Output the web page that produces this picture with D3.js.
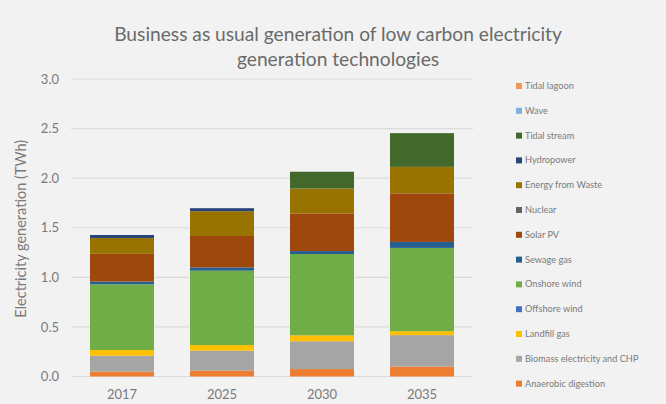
<!DOCTYPE html>
<html>
<head>
<meta charset="utf-8">
<script src="https://cdn.jsdelivr.net/npm/d3@7"></script>
<style>
  html, body { margin: 0; padding: 0; background: #f2f2f2; }
  svg { display: block; }
  text { font-family: "Lato", "Open Sans", sans-serif; }
</style>
</head>
<body>
<svg id="chart" width="666" height="404"></svg>
<script>
// Years on the category axis
const years = ["2017", "2025", "2030", "2035"];

// Technologies, bottom of the stack first
const technologies = [
  "Anaerobic digestion",
  "Biomass electricity and CHP",
  "Landfill gas",
  "Offshore wind",
  "Onshore wind",
  "Sewage gas",
  "Solar PV",
  "Nuclear",
  "Energy from Waste",
  "Hydropower",
  "Tidal stream",
  "Wave",
  "Tidal lagoon"
];

// Generation in TWh per technology, one value per year
const anaerobicDigestion = [0.05, 0.06, 0.075, 0.10];
const biomassChp        = [0.16, 0.20, 0.28, 0.317];
const landfillGas       = [0.057, 0.057, 0.06, 0.04];
const offshoreWind      = [0, 0, 0, 0];
const onshoreWind       = [0.663, 0.75, 0.82, 0.84];
const sewageGas         = [0.027, 0.033, 0.03, 0.06];
const solarPv           = [0.28, 0.317, 0.38, 0.49];
const nuclear           = [0, 0, 0, 0];
const energyFromWaste   = [0.16, 0.25, 0.25, 0.267];
const hydropower        = [0.03, 0.03, 0, 0];
const tidalStream       = [0, 0, 0.17, 0.34];
const wave              = [0, 0, 0, 0];
const tidalLagoon       = [0, 0, 0, 0];

const seriesValues = [
  anaerobicDigestion, biomassChp, landfillGas, offshoreWind, onshoreWind,
  sewageGas, solarPv, nuclear, energyFromWaste, hydropower, tidalStream,
  wave, tidalLagoon
];

const colors = [
  "#ED7D31", "#A5A5A5", "#FFC000", "#4472C4", "#70AD47", "#255E91",
  "#9E480E", "#636363", "#997300", "#264478", "#43682B", "#7CAFDD", "#F1975A"
];

const yTicks = [0, 0.5, 1.0, 1.5, 2.0, 2.5, 3.0];

const titleLines = [
  "Business as usual generation of low carbon electricity",
  "generation technologies"
];
const yTitle = "Electricity generation (TWh)";

// Build one row per year for d3.stack
const rows = years.map((y, i) => {
  const r = { year: y };
  technologies.forEach((t, k) => { r[t] = seriesValues[k][i]; });
  return r;
});

const svg = d3.select("#chart");
const W = 666, H = 404;

svg.append("rect").attr("width", W).attr("height", H).attr("fill", "#f2f2f2");

const plot = { left: 72, right: 472, top: 79, bottom: 376.5 };

const x = d3.scaleBand().domain(years).range([plot.left, plot.right]).paddingInner(0.36).paddingOuter(0.18);
const y = d3.scaleLinear().domain([0, 3]).range([plot.bottom, plot.top]);
const color = d3.scaleOrdinal().domain(technologies).range(colors);

// Gridlines
svg.append("g")
  .selectAll("line")
  .data(yTicks)
  .join("line")
  .attr("x1", plot.left - 1)
  .attr("x2", plot.right + 1)
  .attr("y1", d => y(d))
  .attr("y2", d => y(d))
  .attr("stroke", "#dcdcdc")
  .attr("stroke-width", 1.2);

// Stacked bars
const stacked = d3.stack().keys(technologies)(rows);
svg.append("g")
  .selectAll("g")
  .data(stacked)
  .join("g")
  .attr("fill", d => color(d.key))
  .selectAll("rect")
  .data(d => d)
  .join("rect")
  .attr("x", d => x(d.data.year))
  .attr("width", x.bandwidth())
  .attr("y", d => y(d[1]))
  .attr("height", d => Math.max(0, y(d[0]) - y(d[1])));

const labelFont = "Lato, 'Open Sans', sans-serif";

// Y axis labels
const yAxis = d3.axisLeft(y).tickValues(yTicks).tickFormat(d3.format(".1f")).tickSize(0).tickPadding(13);
const gy = svg.append("g").attr("transform", `translate(${plot.left},0)`).call(yAxis);
gy.select(".domain").remove();
gy.selectAll("text").attr("fill", "#7a7a7a").attr("font-size", 13).style("font-family", labelFont);

// X axis labels
const xAxis = d3.axisBottom(x).tickSize(0).tickPadding(13);
const gx = svg.append("g").attr("transform", `translate(0,${plot.bottom})`).call(xAxis);
gx.select(".domain").remove();
gx.selectAll("text").attr("fill", "#7a7a7a").attr("font-size", 13).style("font-family", labelFont);

// Axis title
svg.append("text")
  .attr("transform", `translate(26,${(plot.top + plot.bottom) / 2 + 1}) rotate(-90)`)
  .attr("text-anchor", "middle")
  .attr("fill", "#7a7a7a")
  .attr("font-size", 14.5)
  .text(yTitle);

// Chart title
svg.append("g")
  .selectAll("text")
  .data(titleLines)
  .join("text")
  .attr("x", 338)
  .attr("y", (d, i) => 41 + i * 25)
  .attr("text-anchor", "middle")
  .attr("fill", "#6a6a6a")
  .attr("font-size", 19.2)
  .text(d => d);

// Legend, last series on top
const legendItems = technologies.slice().reverse();
const lg = svg.append("g")
  .selectAll("g")
  .data(legendItems)
  .join("g")
  .attr("transform", (d, i) => `translate(516,${86 + i * 24.8})`);
lg.append("rect").attr("x", 0).attr("y", -3).attr("width", 6).attr("height", 6).attr("fill", d => color(d));
lg.append("text").attr("x", 9).attr("y", 3).attr("fill", "#7a7a7a").attr("font-size", 9.2).text(d => d);
</script>
</body>
</html>
